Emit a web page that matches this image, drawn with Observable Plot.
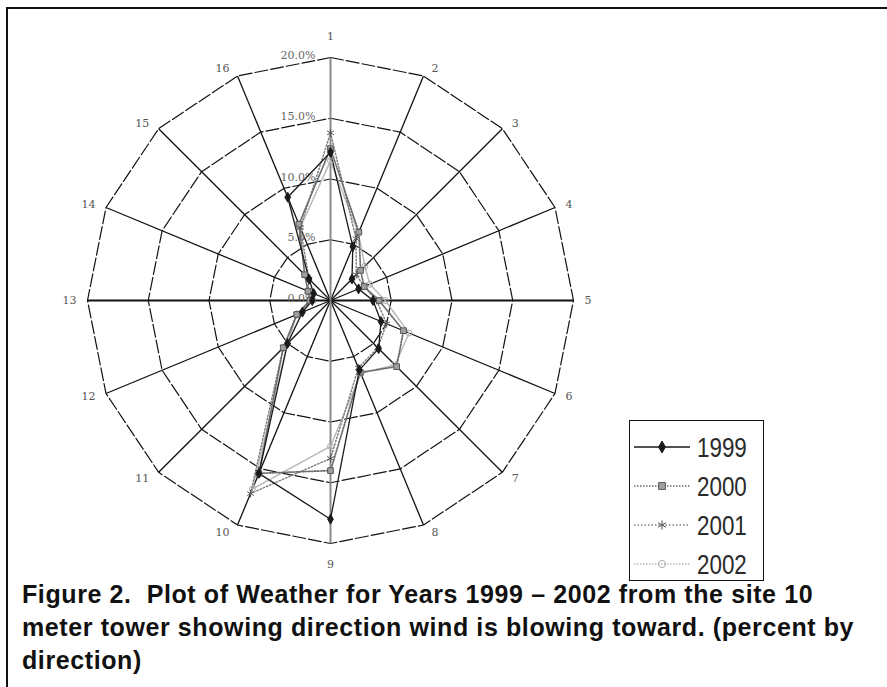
<!DOCTYPE html>
<html>
<head>
<meta charset="utf-8">
<script src="https://cdn.jsdelivr.net/npm/d3@7"></script>
<script src="https://cdn.jsdelivr.net/npm/@observablehq/plot@0.6"></script>
<style>
  body { margin: 0; background: #fff; }
  #page { position: relative; width: 887px; height: 687px; overflow: hidden; background: #fff; }
  #chart { position: absolute; left: 0; top: 0; }
  #legend { position: absolute; left: 629px; top: 420px; width: 133px; height: 159px; border: 1.5px solid #111; background: #fff; }
  #caption { position: absolute; left: 22px; top: 578px; font-family: "Liberation Sans", Arial, sans-serif; font-weight: bold; font-size: 25px; letter-spacing: 0.6px; line-height: 33px; color: #111; white-space: nowrap; }
  .bl { position: absolute; background: #111; }
</style>
</head>
<body>
<div id="page">
  <div class="bl" style="left:6px; top:7px; width:2px; height:680px;"></div>
  <div class="bl" style="left:6px; top:7px; width:881px; height:2px;"></div>
  <div id="chart"></div>
  <div id="legend"></div>
  <div id="caption"></div>
</div>
<script>
// ---- data ----
const directions = ["1","2","3","4","5","6","7","8","9","10","11","12","13","14","15","16"];
const years = ["1999","2000","2001","2002"];
const s1999 = [12.2, 4.8, 2.5, 2.5, 3.5, 4.5, 5.6, 6.2, 18.0, 15.4, 5.0, 2.5, 1.5, 1.5, 2.5, 9.2];
const s2000 = [12.5, 6.1, 3.5, 3.0, 4.0, 6.5, 7.7, 6.4, 14.0, 15.4, 5.5, 3.0, 1.7, 2.0, 3.0, 6.8];
const s2001 = [13.8, 5.5, 3.0, 3.0, 3.8, 5.0, 5.5, 6.0, 13.0, 17.2, 5.5, 3.0, 1.5, 2.0, 2.5, 6.5];
const s2002 = [11.5, 6.0, 4.0, 3.5, 4.5, 7.0, 7.5, 6.5, 12.0, 16.8, 5.0, 3.0, 1.5, 2.0, 3.0, 6.5];
const ringValues = [5, 10, 15, 20];
const ringTickValues = [0, 5, 10, 15, 20];
const ringTickLabels = ["0.0%", "5.0%", "10.0%", "15.0%", "20.0%"];
const captionLines = [
  "Figure 2.\u00a0 Plot of Weather for Years 1999 \u2013 2002 from the site 10",
  "meter tower showing direction wind is blowing toward. (percent by",
  "direction)"
];

// ---- geometry helpers ----
const W = 887, H = 585, cx = 330, cy = 300, k = 12.15; // k = pixels per percent
const n = directions.length;
const ang = i => i * 2 * Math.PI / n;
const px = (r, i) => r * Math.sin(ang(i));
const py = (r, i) => r * Math.cos(ang(i));

const rings = ringValues.flatMap(r =>
  d3.range(n + 1).map(i => ({ ring: r, x: px(r, i % n), y: py(r, i % n) })));
const maxR = d3.max(ringValues);
const spokes = directions.map((d, i) => ({ i, x2: px(maxR, i), y2: py(maxR, i) }));

// category labels placed next to each outer vertex
const dirLabels = directions.map((d, i) => {
  const ux = Math.sin(ang(i)), uy = Math.cos(ang(i));
  const vx = px(maxR, i), vy = py(maxR, i);
  if (Math.abs(ux) < 0.1) return { label: d, side: "mid", x: vx, y: vy + Math.sign(uy) * 21 / k };
  const gap = (6 + 5 * Math.abs(ux)) / k;
  return { label: d, side: ux < 0 ? "left" : "right", x: vx + Math.sign(ux) * gap, y: vy + uy * 8 / k };
});
const ringLabels = ringTickValues.map((v, j) => ({ label: ringTickLabels[j], y: v }));

const seriesArr = [s1999, s2000, s2001, s2002];
const seriesData = years.map((yr, j) =>
  d3.range(n + 1).map(i => ({ year: yr, v: seriesArr[j][i % n], x: px(seriesArr[j][i % n], i % n), y: py(seriesArr[j][i % n], i % n) })));
const pointsOf = j => seriesData[j].slice(0, n);

const styles = {
  "1999": { stroke: "#1a1a1a", width: 1.3, dash: null, symbol: "diamond", fill: "#1a1a1a", mstroke: "#1a1a1a", r: 3 },
  "2000": { stroke: "#6a6a6a", width: 1.7, dash: "1.5,1.5", symbol: "square", fill: "#a0a0a0", mstroke: "#555", r: 3.2 },
  "2001": { stroke: "#7a7a7a", width: 1.4, dash: "1.5,2", symbol: "asterisk", fill: "none", mstroke: "#555", r: 3.6 },
  "2002": { stroke: "#b8b8b8", width: 1.6, dash: "1.5,1.5", symbol: "circle", fill: "none", mstroke: "#aaa", r: 3 }
};

// ---- chart ----
const labelFont = "DejaVu Serif, serif";
const marks = [
  Plot.line(rings, { x: "x", y: "y", z: "ring", stroke: "#111", strokeWidth: 1.2, strokeDasharray: "13,3" }),
  Plot.link(spokes.filter(d => d.i % 4 !== 0), { x1: 0, y1: 0, x2: "x2", y2: "y2", stroke: "#111", strokeWidth: 1.3 }),
  Plot.link(spokes.filter(d => d.i === 4 || d.i === 12), { x1: 0, y1: 0, x2: "x2", y2: "y2", stroke: "#111", strokeWidth: 2 }),
  Plot.link(spokes.filter(d => d.i === 0 || d.i === 8), { x1: 0, y1: 0, x2: "x2", y2: "y2", stroke: "#8a8a8a", strokeWidth: 2 }),
  Plot.text(ringLabels, { x: -15 / k, y: "y", text: "label", textAnchor: "end", fill: "#666", fontSize: 11, fontFamily: labelFont, dy: -2 }),
  Plot.text(dirLabels.filter(d => d.side === "mid"), { x: "x", y: "y", text: "label", textAnchor: "middle", fill: "#555", fontSize: 11, fontFamily: labelFont }),
  Plot.text(dirLabels.filter(d => d.side === "left"), { x: "x", y: "y", text: "label", textAnchor: "end", fill: "#555", fontSize: 11, fontFamily: labelFont }),
  Plot.text(dirLabels.filter(d => d.side === "right"), { x: "x", y: "y", text: "label", textAnchor: "start", fill: "#555", fontSize: 11, fontFamily: labelFont })
];
[3, 2, 1, 0].forEach(j => {
  const st = styles[years[j]];
  marks.push(Plot.line(seriesData[j], { x: "x", y: "y", stroke: st.stroke, strokeWidth: st.width, strokeDasharray: st.dash }));
});
[3, 2, 1, 0].forEach(j => {
  const st = styles[years[j]];
  marks.push(Plot.dot(pointsOf(j), { x: "x", y: "y", symbol: () => st.symbol, r: st.r, fill: st.fill, stroke: st.mstroke, strokeWidth: 1 }));
});

const chart = Plot.plot({
  width: W, height: H, margin: 0,
  x: { domain: [-cx / k, (W - cx) / k], axis: null },
  y: { domain: [-(H - cy) / k, cy / k], axis: null },
  symbol: { type: "identity" },
  style: { background: "transparent", overflow: "visible" },
  marks
});
document.getElementById("chart").appendChild(chart);

// ---- legend ----
const lg = d3.select("#legend").append("svg").attr("width", 133).attr("height", 159);
const symGen = { diamond: d3.symbolDiamond, square: d3.symbolSquare, asterisk: d3.symbolAsterisk, circle: d3.symbolCircle };
years.forEach((yr, j) => {
  const st = styles[yr];
  const yy = 26 + j * 39;
  lg.append("line").attr("x1", 4).attr("x2", 60).attr("y1", yy).attr("y2", yy)
    .attr("stroke", st.stroke).attr("stroke-width", st.width).attr("stroke-dasharray", st.dash);
  lg.append("path").attr("d", d3.symbol(symGen[st.symbol], st.r * st.r * 4.5)())
    .attr("transform", `translate(32,${yy})`).attr("fill", st.fill).attr("stroke", st.mstroke);
  lg.append("text").attr("transform", `translate(67,${yy}) scale(0.83,1)`).attr("dy", "0.36em").text(yr)
    .attr("font-family", "Liberation Sans, sans-serif").attr("font-size", 27).attr("fill", "#2a2a2a");
});

// ---- caption ----
document.getElementById("caption").innerHTML = captionLines.join("<br>");
</script>
</body>
</html>
